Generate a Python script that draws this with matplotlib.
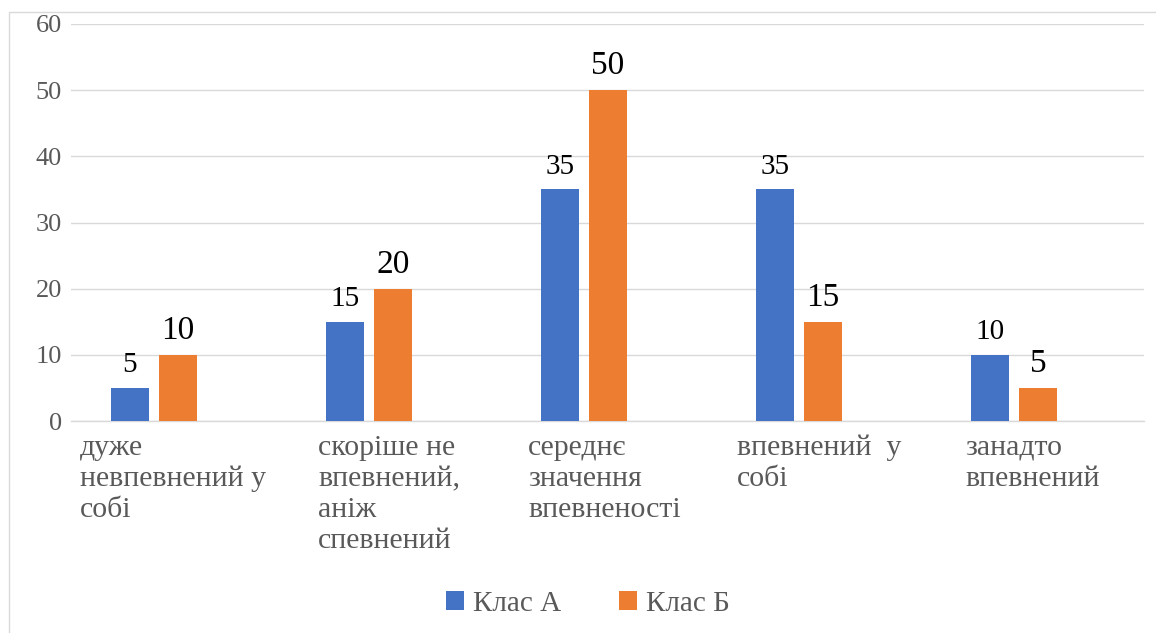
import matplotlib
matplotlib.use("Agg")
import matplotlib.pyplot as plt
from matplotlib.patches import Rectangle
from matplotlib.transforms import blended_transform_factory
from matplotlib import font_manager as fm
import numpy as np

categories = [
    "дуже\nневпевнений у\nсобі",
    "скоріше не\nвпевнений,\nаніж\nспевнений",
    "середнє\nзначення\nвпевненості",
    "впевнений  у\nсобі",
    "занадто\nвпевнений",
]
series_names = ["Клас А", "Клас Б"]
class_a = [5, 15, 35, 35, 10]
class_b = [10, 20, 50, 15, 5]
y_ticks = [0, 10, 20, 30, 40, 50, 60]

BLUE = "#4472C4"
ORANGE = "#ED7D31"
GRID = "#D9D9D9"
TEXT_GRAY = "#595959"
SERIF_PATH = fm.findfont(fm.FontProperties(family="Liberation Serif"))
plt.rcParams["font.family"] = "Liberation Serif"


def serif(size):
    return fm.FontProperties(fname=SERIF_PATH, size=size)


W, H, DPI = 1156, 633, 100
fig = plt.figure(figsize=(W / DPI, H / DPI), dpi=DPI)

# chart-area frame (runs off the right and bottom edges)
fig.patches.append(Rectangle((9 / W, -0.05), 1.2, 1 - 12 / H + 0.05,
                             transform=fig.transFigure, fill=False,
                             edgecolor=GRID, linewidth=1.0))

ax_l, ax_r, ax_b, ax_t = 71, 1144, 421, 24
ax = fig.add_axes([ax_l / W, 1 - ax_b / H, (ax_r - ax_l) / W, (ax_b - ax_t) / H])

unit = 215.0  # pixels per category
x0 = 154.0    # pixel x of first category center
ax.set_xlim(-(x0 - ax_l) / unit, (ax_r - x0) / unit)
ax.set_ylim(0, 60)

x = np.arange(len(categories))
bw = 38 / unit
off = 24 / unit
bars_a = ax.bar(x - off, class_a, bw, color=BLUE, label=series_names[0], zorder=3)
bars_b = ax.bar(x + off, class_b, bw, color=ORANGE, label=series_names[1], zorder=3)

for t in ax.bar_label(bars_a, labels=[str(v) for v in class_a], padding=7, color="black"):
    t.set_fontproperties(serif(21))
for t in ax.bar_label(bars_b, labels=[str(v) for v in class_b], padding=6.5, color="black"):
    t.set_fontproperties(serif(24))

ax.set_yticks(y_ticks)
ax.set_yticklabels([str(t) for t in y_ticks], color=TEXT_GRAY)
for t in ax.get_yticklabels():
    t.set_fontproperties(serif(19))
ax.tick_params(axis="y", length=0, pad=6.5)
ax.set_xticks([])
ax.yaxis.grid(True, color=GRID, linewidth=1.0, zorder=0)
for s in ["top", "right", "left"]:
    ax.spines[s].set_visible(False)
ax.spines["bottom"].set_color(GRID)
ax.spines["bottom"].set_linewidth(1.0)
ax.set_axisbelow(True)

# category labels: left-aligned wrapped lines below the axis
label_left_px = [-74, -51, -56, -62, -49]
first_baseline = 455
line_step = 31
trans = blended_transform_factory(ax.transData, fig.transFigure)
for i, (cat, dx) in enumerate(zip(categories, label_left_px)):
    xl = x[i] + dx / unit
    for k, line in enumerate(cat.split("\n")):
        yb = first_baseline + k * line_step
        ax.text(xl, 1 - yb / H, line, transform=trans, ha="left", va="baseline",
                fontproperties=serif(21.5), color=TEXT_GRAY, clip_on=False)

leg = fig.legend(handles=[bars_a, bars_b], labels=series_names, loc="center",
                 bbox_to_anchor=(588 / W, 1 - 604 / H), ncol=2, frameon=False,
                 prop=serif(21), handlelength=0.62,
                 handleheight=0.62, handletextpad=0.3, columnspacing=2.0,
                 labelcolor=TEXT_GRAY)

fig.savefig("out.png", dpi=DPI)
